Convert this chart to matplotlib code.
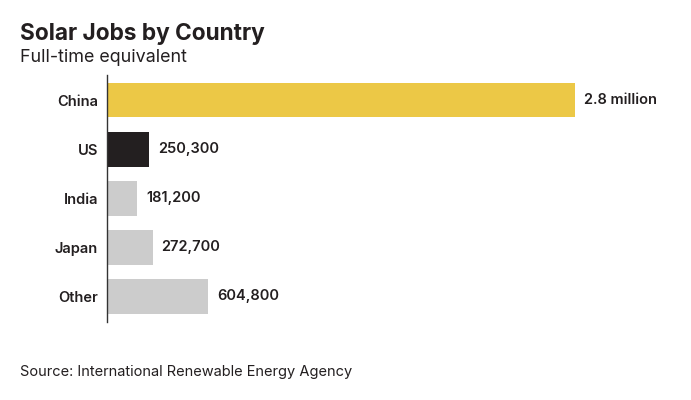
import matplotlib
matplotlib.use("Agg")
import matplotlib.pyplot as plt

countries = ["China", "US", "India", "Japan", "Other"]
jobs = [2800000, 250300, 181200, 272700, 604800]
value_labels = ["2.8 million", "250,300", "181,200", "272,700", "604,800"]
bar_colors = ["#ecc846", "#231f20", "#cccccc", "#cccccc", "#cccccc"]

TEXT = "#231f20"
plt.rcParams['font.family'] = ['Inter', 'DejaVu Sans']

fig = plt.figure(figsize=(6.91, 4.0), dpi=100)
ax = fig.add_axes([107 / 691, 1 - 322 / 400, 553 / 691, 247 / 400])

ypos = list(range(len(countries)))
ax.barh(ypos, jobs, height=0.71, color=bar_colors, zorder=2)
ax.set_ylim(4.52, -0.51)
ax.set_xlim(0, 2800000 * 553 / 468)

for y, v, lab in zip(ypos, jobs, value_labels):
    ax.annotate(lab, (v, y), xytext=(6.5, 0), textcoords="offset points",
                ha="left", va="center", fontsize=10.5, fontweight="semibold",
                color=TEXT)

ax.set_yticks(ypos)
ax.set_yticklabels(countries, fontsize=10.5, fontweight="semibold", color=TEXT)
ax.tick_params(axis="y", length=0, pad=6.5)
ax.set_xticks([])
for side in ["top", "right", "bottom"]:
    ax.spines[side].set_visible(False)
ax.spines["left"].set_color("#333333")
ax.spines["left"].set_linewidth(1)
ax.spines["left"].set_zorder(3)

fig.text(20 / 691, 1 - 40 / 400, "Solar Jobs by Country", fontsize=16.3,
         fontweight="bold", color=TEXT, va="baseline")
fig.text(20 / 691, 1 - 62 / 400, "Full-time equivalent", fontsize=12.9,
         color=TEXT, va="baseline")
fig.text(20 / 691, 1 - 376 / 400, "Source: International Renewable Energy Agency",
         fontsize=10.5, color=TEXT, va="baseline")

fig.savefig("out.png", dpi=100, facecolor="white")
